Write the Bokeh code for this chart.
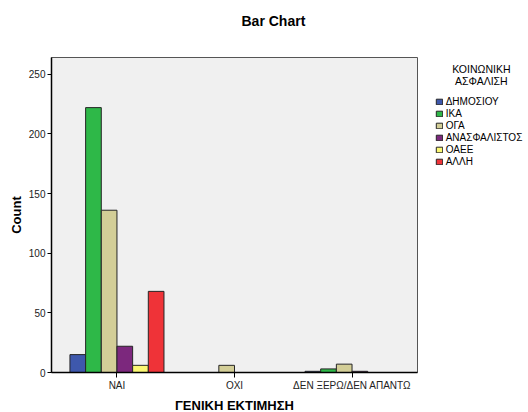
from bokeh.plotting import figure
from bokeh.models import Range1d, FixedTicker, Legend, LegendItem, Title
from bokeh.embed import file_html
from bokeh.resources import INLINE

categories = ["ΝΑΙ", "ΟΧΙ", "ΔΕΝ ΞΕΡΩ/ΔΕΝ ΑΠΑΝΤΩ"]
series_names = ["ΔΗΜΟΣΙΟΥ", "ΙΚΑ", "ΟΓΑ", "ΑΝΑΣΦΑΛΙΣΤΟΣ", "ΟΑΕΕ", "ΑΛΛΗ"]
dimosiou = [15, 0, 1]
ika = [222, 0, 3]
oga = [136, 6, 7]
anasfalistos = [22, 0, 1]
oaee = [6, 0, 0]
alli = [68, 0, 0]
series_values = [dimosiou, ika, oga, anasfalistos, oaee, alli]
colors = ["#3E58AC", "#2EB848", "#D3CE97", "#7C287D", "#FBF873", "#EF3338"]
y_ticks = [0, 50, 100, 150, 200, 250]

FONT = "Liberation Sans"
NB = "\u00a0"

p = figure(frame_width=366, frame_height=315, output_backend="svg", toolbar_location=None,
           title=None, x_range=Range1d(-0.557, 2.557), y_range=Range1d(0, 264),
           min_border_left=51, min_border_right=111, min_border_top=57, min_border_bottom=38)
p.background_fill_color = "#F0F0F0"
p.border_fill_color = "white"
p.outline_line_color = "#555555"
p.outline_line_width = 1
p.xgrid.visible = False
p.ygrid.visible = False

group_width = 0.8
n = len(series_names)
bw = group_width / n
x_idx = list(range(len(categories)))
items = []
for i, (name, vals, col) in enumerate(zip(series_names, series_values, colors)):
    xs = [c + (i - (n - 1) / 2) * bw for c in x_idx]
    r = p.vbar(x=xs, top=vals, width=bw, bottom=0, fill_color=col,
               line_color="#262626", line_width=1)
    items.append(LegendItem(label=name, renderers=[r]))

# axes
p.xaxis.ticker = FixedTicker(ticks=x_idx)
p.xaxis.major_label_overrides = {i: c for i, c in enumerate(categories)}
p.yaxis.ticker = FixedTicker(ticks=y_ticks)
for ax in (p.xaxis[0], p.yaxis[0]):
    ax.axis_line_color = "#000000"
    ax.axis_line_width = 1.5
    ax.major_tick_line_color = "#000000"
    ax.minor_tick_line_color = None
    ax.major_tick_in = 0
    ax.major_label_text_font = FONT
    ax.major_label_text_font_size = "10px"
    ax.major_label_text_color = "#222222"
    ax.major_label_standoff = 2
    ax.axis_label_text_font = FONT
    ax.axis_label_text_font_size = "13px"
    ax.axis_label_text_font_style = "bold"
    ax.axis_label_text_color = "#000000"
p.xaxis.major_tick_out = 5
p.yaxis.major_tick_out = 4
p.xaxis.axis_label = "ΓΕΝΙΚΗ ΕΚΤΙΜΗΣΗ"
p.yaxis.axis_label = "Count"
p.xaxis.axis_label_standoff = 4
p.yaxis.axis_label_standoff = 2

# title (spacer below it, nearest the frame)
p.add_layout(Title(text=NB, text_font=FONT, text_font_size="22px", standoff=0), "above")
p.add_layout(Title(text="Bar Chart", text_font=FONT, text_font_size="14px",
                   text_font_style="bold", text_color="#000000",
                   align="left", offset=190, standoff=4), "above")

legend = Legend(items=items, location=(17.7, 204.7), orientation="vertical",
                title=NB * 6 + "ΚΟΙΝΩΝΙΚΗ\n" + NB * 7 + "ΑΣΦΑΛΙΣΗ",
                title_text_font=FONT, title_text_font_size="10.5px",
                title_text_font_style="normal", title_text_color="#000000",
                title_text_line_height=0.75, title_standoff=8,
                glyph_width=8, glyph_height=7, label_height=12, spacing=0,
                label_standoff=3, padding=0, margin=0,
                label_text_font=FONT, label_text_font_size="10px",
                label_text_color="#000000", label_text_baseline="middle",
                background_fill_alpha=0, border_line_alpha=0)
p.add_layout(legend, "right")

open("out.html", "w").write(file_html(p, INLINE))
